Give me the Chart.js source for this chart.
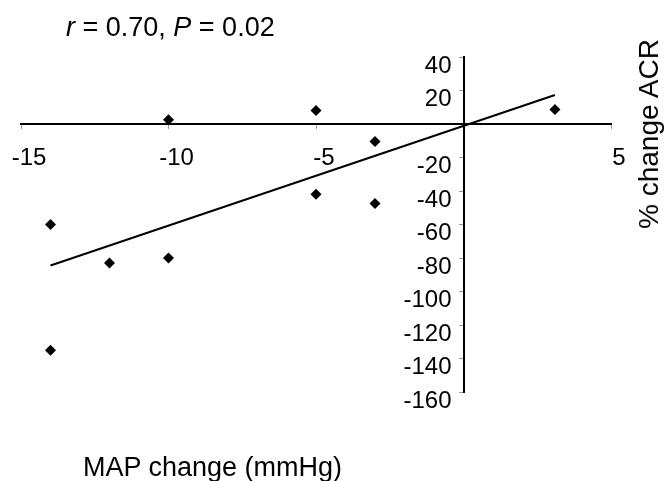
<!DOCTYPE html>
<html lang="en">
<head>
    <meta charset="UTF-8">
    <title>MAP change vs % change ACR</title>
    <script src="https://cdn.jsdelivr.net/npm/chart.js"></script>
    <style>
        body {
            margin: 0;
            background: #fff;
            font-family: 'Liberation Sans', Arial, sans-serif;
        }
        #wrap {
            position: relative;
            width: 668px;
            height: 481px;
        }
        canvas {
            position: absolute;
            left: 0;
            top: 0;
        }
        .lbl {
            position: absolute;
            color: #000;
            white-space: nowrap;
            line-height: 1;
        }
        #stat { left: 66px; top: 14px; font-size: 27px; }
        #xname { left: 83px; top: 454px; font-size: 27px; }
        #yname { left: 649px; top: 134px; font-size: 28px; transform: translate(-50%, -50%) rotate(-90deg); }
    </style>
</head>
<body>

<div id="wrap">
    <canvas id="chart" width="668" height="481"></canvas>
    <div class="lbl" id="stat"><i>r</i> = 0.70, <i>P</i> = 0.02</div>
    <div class="lbl" id="xname">MAP change (mmHg)</div>
    <div class="lbl" id="yname">% change ACR</div>
</div>

<script>
    // measured points
    const mapChange = [-14, -14, -12, -10, -10, -5, -5, -3, -3, 3.1];
    const acrChange = [-60, -135, -83, -80, 2.5, 8, -42, -10.5, -47.5, 8.7];

    // regression line end points
    const fitX = [-14, 3.1];
    const fitY = [-84.5, 17.3];

    // axis ticks
    const xTicks = [-15, -10, -5, 0, 5];
    const yTicks = [40, 20, 0, -20, -40, -60, -80, -100, -120, -140, -160];

    const points = mapChange.map((x, i) => ({ x: x, y: acrChange[i] }));
    const fitLine = fitX.map((x, i) => ({ x: x, y: fitY[i] }));

    const tickFont = { family: "'Liberation Sans', Arial, sans-serif", size: 24 };

    function noPad(scale) {
        scale.paddingLeft = 0;
        scale.paddingRight = 0;
        scale.paddingTop = 0;
        scale.paddingBottom = 0;
    }

    new Chart(document.getElementById('chart'), {
        type: 'scatter',
        data: {
            datasets: [{
                data: points,
                pointStyle: 'rectRot',
                pointRadius: 5.5,
                backgroundColor: '#000',
                borderColor: '#000',
                borderWidth: 0
            }, {
                data: fitLine,
                showLine: true,
                pointRadius: 0,
                borderColor: '#000',
                borderWidth: 2
            }]
        },
        options: {
            responsive: false,
            animation: false,
            layout: {
                padding: { left: 21, top: 57, right: 57, bottom: 89 }
            },
            plugins: {
                legend: { display: false },
                tooltip: { enabled: false }
            },
            scales: {
                x: {
                    type: 'linear',
                    position: { y: 0 },
                    min: xTicks[0],
                    max: xTicks[xTicks.length - 1],
                    afterFit: noPad,
                    afterBuildTicks: (axis) => { axis.ticks = xTicks.map(v => ({ value: v })); },
                    border: { display: true, color: '#000', width: 2 },
                    grid: { drawOnChartArea: false, drawTicks: true, tickLength: 4, color: '#999' },
                    ticks: {
                        color: '#000',
                        font: tickFont,
                        padding: 16,
                        labelOffset: 8,
                        maxRotation: 0,
                        autoSkip: false,
                        callback: (v) => v === 0 ? '' : v
                    }
                },
                y: {
                    type: 'linear',
                    position: { x: 0 },
                    min: yTicks[yTicks.length - 1],
                    max: yTicks[0],
                    afterFit: noPad,
                    afterBuildTicks: (axis) => { axis.ticks = yTicks.map(v => ({ value: v })); },
                    border: { display: true, color: '#000', width: 2 },
                    grid: { drawOnChartArea: false, drawTicks: true, tickLength: 4, color: '#999' },
                    ticks: {
                        color: '#000',
                        font: tickFont,
                        labelOffset: 9,
                        autoSkip: false,
                        // trailing en space keeps the label clear of the axis line
                        callback: (v) => v === 0 ? '' : v + '\u2002'
                    }
                }
            }
        }
    });
</script>

</body>
</html>
